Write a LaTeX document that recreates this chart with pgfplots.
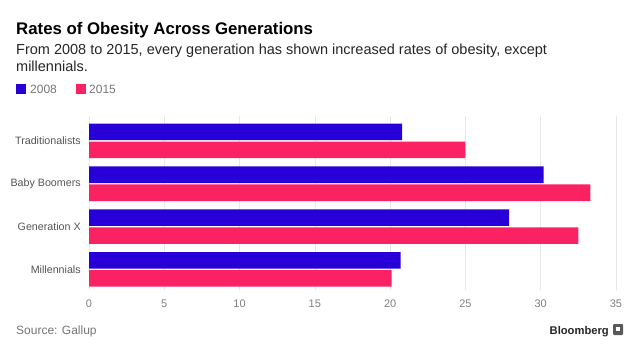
\documentclass[border=0pt]{standalone}
\usepackage{pgfplots}
\pgfplotsset{compat=1.18}
\usepackage{fontspec}
\setmainfont{Liberation Sans}
\definecolor{bblue}{HTML}{2800D7}
\definecolor{bpink}{HTML}{FB2264}
\definecolor{lgray}{HTML}{555555}
\definecolor{tgray}{HTML}{808080}
\definecolor{sgray}{HTML}{777777}
\definecolor{ggray}{HTML}{E8E8E8}
\begin{document}
\begin{tikzpicture}
\path[use as bounding box, fill=white] (0,0) rectangle (638bp,-355bp);
\node[anchor=base west, inner sep=0, font=\bfseries\fontsize{16.8bp}{20bp}\selectfont] at (16bp,-34bp) {Rates of Obesity Across Generations};
\node[anchor=base west, inner sep=0, font=\fontsize{14.5bp}{17bp}\selectfont, text=black!85] at (16bp,-54.5bp) {From 2008 to 2015, every generation has shown increased rates of obesity, except};
\node[anchor=base west, inner sep=0, font=\fontsize{14.5bp}{17bp}\selectfont, text=black!85] at (16bp,-71.5bp) {millennials.};
\fill[bblue] (16bp,-84bp) rectangle (26bp,-94bp);
\node[anchor=base west, inner sep=0, font=\fontsize{12bp}{14bp}\selectfont, text=sgray] at (30bp,-93.5bp) {2008};
\fill[bpink] (76bp,-84bp) rectangle (86bp,-94bp);
\node[anchor=base west, inner sep=0, font=\fontsize{12bp}{14bp}\selectfont, text=sgray] at (89bp,-93.5bp) {2015};
\begin{axis}[
  at={(89bp,-290bp)}, anchor=south west,
  scale only axis, width=536bp, height=174bp,
  xmin=0, xmax=35.6, ymin=-0.48, ymax=3.58,
  xbar, bar width=16.6bp,
  ytick={0,1,2,3},
  yticklabels={Millennials,Generation X,Baby Boomers,Traditionalists},
  xtick={0,5,...,35},
  axis line style={draw=none},
  major tick style={draw=none},
  xmajorgrids, grid style={ggray, line width=0.6pt},
  yticklabel style={text=lgray, font=\fontsize{10.7bp}{12bp}\selectfont, xshift=-0.5bp},
  xticklabel style={text=tgray, font=\fontsize{11bp}{13bp}\selectfont, yshift=-6bp},
  /pgf/number format/assume math mode=true,
]
\addplot[fill=bblue, draw=none, bar shift=9bp] coordinates {(20.7,0) (27.9,1) (30.2,2) (20.8,3)};
\addplot[fill=bpink, draw=none, bar shift=-9bp] coordinates {(20.1,0) (32.5,1) (33.3,2) (25.0,3)};
\end{axis}
\node[anchor=base west, inner sep=0, font=\fontsize{12bp}{14bp}\selectfont, text=sgray] at (16bp,-334bp) {Source: Gallup};
\node[anchor=base east, inner sep=0, font=\bfseries\fontsize{11.2bp}{14bp}\selectfont, text=black!85] at (609bp,-334bp) {Bloomberg};
\fill[black!65, rounded corners=1bp] (613bp,-324bp) rectangle (623bp,-335bp);
\fill[white] (616bp,-327bp) rectangle (620bp,-331bp);
\end{tikzpicture}
\end{document}
